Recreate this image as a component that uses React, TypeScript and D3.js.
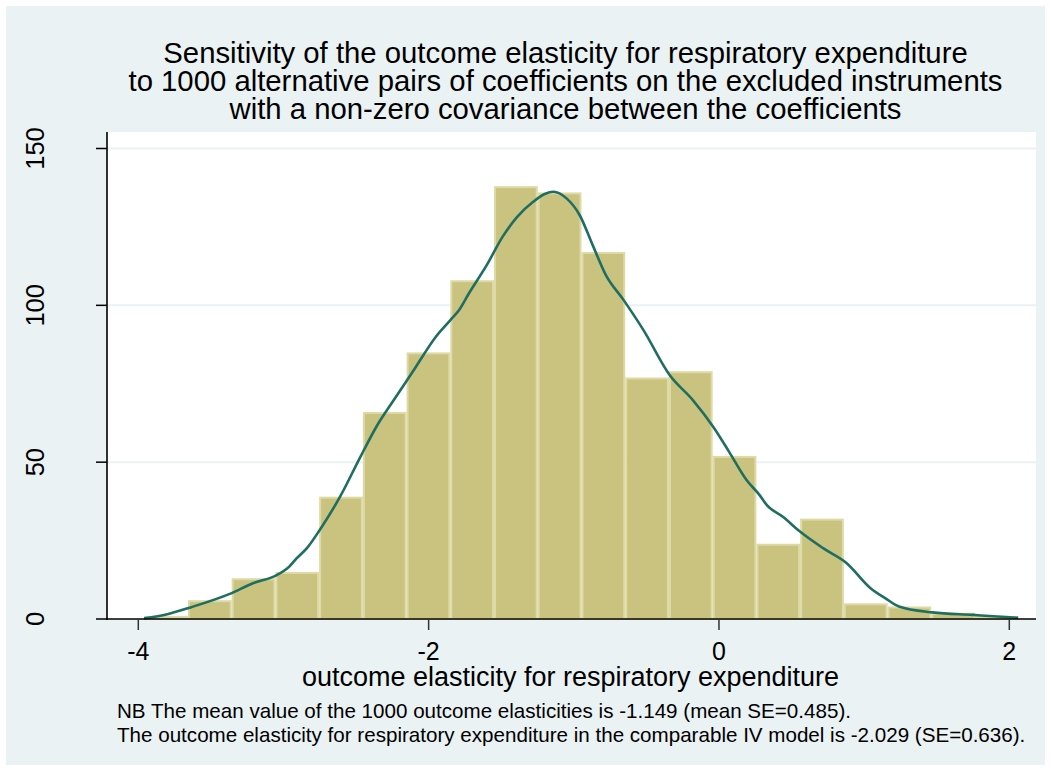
import React from "react";
import * as d3 from "d3";

const titleLines = [
  "Sensitivity of the outcome elasticity for respiratory expenditure",
  "to 1000 alternative pairs of coefficients on the excluded instruments",
  "with a non-zero covariance between the coefficients",
];
const xTicks = [-4, -2, 0, 2];
const yTicks = [0, 50, 100, 150];
const yGrid = [50, 100, 150];
const binStart = -3.959;
const binWidth = 0.3012;
const binCounts = [1, 6, 13, 15, 39, 66, 85, 108, 138, 136, 117, 77, 79, 52, 24, 32, 5, 4, 2, 1];
const densityX = [
  -3.96, -3.8, -3.64, -3.37, -3.21, -3.05, -2.96, -2.91, -2.84, -2.75, -2.61, -2.47, -2.36, -2.24,
  -2.11, -1.95, -1.85, -1.79, -1.72, -1.6, -1.49, -1.39, -1.28, -1.2, -1.14, -1.05, -0.96, -0.87,
  -0.78, -0.66, -0.52, -0.34, -0.18, -0.04, 0.07, 0.19, 0.28, 0.33, 0.44, 0.56, 0.72, 0.88, 1.04,
  1.15, 1.24, 1.47, 1.75, 2.06,
];
const densityY = [
  0.2, 1.5, 3.7, 8.0, 11.4, 13.9, 16.7, 19.3, 22.5, 28.4, 39.0, 51.7, 61.3, 69.8, 78.8, 90.0, 95.3,
  98.5, 104.0, 112.8, 121.9, 128.2, 133.0, 135.5, 136.2, 134.1, 128.8, 119.2, 109.7, 101.9, 92.1,
  77.8, 69.8, 61.3, 53.3, 44.3, 39.5, 36.3, 32.6, 27.8, 22.5, 17.8, 10.0, 6.5, 4.0, 2.1, 1.3, 0.4,
];
const xTitle = "outcome elasticity for respiratory expenditure";
const notes = [
  "NB The mean value of the 1000 outcome elasticities is -1.149 (mean SE=0.485).",
  "The outcome elasticity for respiratory expenditure in the comparable IV model is -2.029 (SE=0.636).",
];

const W = 1051;
const H = 771;
const plotL = 107;
const plotR = 1036;
const plotT = 132;
const plotB = 619;
const font = "'Liberation Sans', Arial, sans-serif";
const bg = "#EAF2F3";

export default function App() {
  const x = d3.scaleLinear().domain([-4, 2]).range([138.3, 1009.3]);
  const y = d3.scaleLinear().domain([0, 150]).range([619, 148.5]);
  const pts: [number, number][] = densityX.map((d, i) => [d, densityY[i]]);
  const line = d3
    .line<[number, number]>()
    .x((d) => x(d[0]))
    .y((d) => y(d[1]))
    .curve(d3.curveMonotoneX);

  return (
    <svg
      width={W}
      height={H}
      style={{ position: "absolute", left: 0, top: 0 }}
      fontFamily={font}
    >
      <rect x={0} y={0} width={W} height={H} fill="#ffffff" />
      <rect x={6} y={6} width={1039} height={759} fill={bg} />
      <rect x={plotL} y={plotT} width={plotR - plotL} height={plotB - plotT} fill="#ffffff" />
      {yGrid.map((v) => (
        <line key={v} x1={plotL} x2={plotR} y1={y(v)} y2={y(v)} stroke={bg} strokeWidth={2} />
      ))}
      {binCounts.map((c, i) => {
        const x0 = x(binStart + i * binWidth);
        const x1 = x(binStart + (i + 1) * binWidth);
        return (
          <rect
            key={i}
            x={x0 + 1}
            y={y(c) + 1}
            width={x1 - x0 - 2}
            height={Math.max(0, y(0) - y(c) - 1)}
            fill="#CAC27F"
            stroke="#DEDAA6"
            strokeWidth={2}
          />
        );
      })}
      <path d={line(pts) || ""} fill="none" stroke="#1F6E62" strokeWidth={2.6} />
      <line x1={plotL} x2={plotL} y1={plotT} y2={plotB + 1} stroke="#000" strokeWidth={1.6} />
      <line x1={plotL - 1} x2={plotR} y1={plotB} y2={plotB} stroke="#000" strokeWidth={1.6} />
      {yTicks.map((v) => (
        <g key={v}>
          <line x1={96} x2={plotL} y1={y(v)} y2={y(v)} stroke="#000" strokeWidth={1.5} />
          <text
            transform={`translate(${44},${y(v)}) rotate(-90)`}
            textAnchor="middle"
            fontSize={25.5}
            fill="#000"
          >
            {v}
          </text>
        </g>
      ))}
      {xTicks.map((v) => (
        <g key={v}>
          <line x1={x(v)} x2={x(v)} y1={plotB} y2={630} stroke="#333" strokeWidth={1.5} />
          <text x={x(v)} y={660} textAnchor="middle" fontSize={25} fill="#000">
            {v}
          </text>
        </g>
      ))}
      <text x={570.5} y={686} textAnchor="middle" fontSize={27} fill="#000">
        {xTitle}
      </text>
      {titleLines.map((t, i) => (
        <text key={i} x={565.5} y={63 + i * 28} textAnchor="middle" fontSize={29.3} fill="#000">
          {t}
        </text>
      ))}
      {notes.map((t, i) => (
        <text key={i} x={117} y={718 + i * 24} fontSize={20.6} fill="#000">
          {t}
        </text>
      ))}
    </svg>
  );
}
